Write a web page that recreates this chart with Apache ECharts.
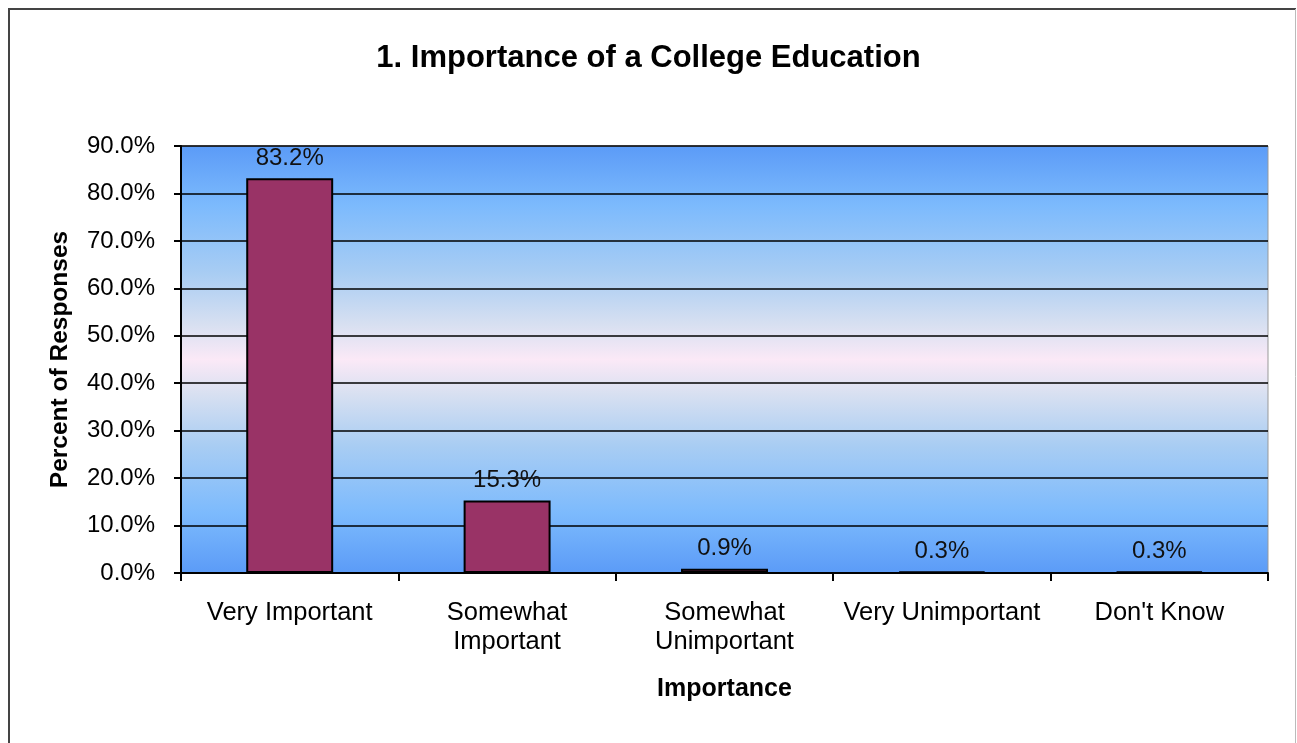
<!DOCTYPE html>
<html>
<head>
<meta charset="utf-8">
<script src="https://cdn.jsdelivr.net/npm/echarts@6/dist/echarts.min.js"></script>
<style>
html,body{margin:0;padding:0;background:#fff;}
#chart{width:1297px;height:743px;}
</style>
</head>
<body>
<div id="chart"></div>
<script>
const categories = ['Very Important', 'Somewhat\nImportant', 'Somewhat\nUnimportant', 'Very Unimportant', "Don't Know"];
const percentValues = [83.2, 15.3, 0.9, 0.3, 0.3];
const yTickMax = 90;
const yTickStep = 10;

const chart = echarts.init(document.getElementById('chart'));
const FONT = '"Liberation Sans", Arial, sans-serif';

const bg = new echarts.graphic.LinearGradient(0, 0, 0, 1, [
  {offset: 0, color: '#5b9bf7'},
  {offset: 0.14, color: '#7cbafd'},
  {offset: 0.3, color: '#a9cdf3'},
  {offset: 0.42, color: '#d8e0f1'},
  {offset: 0.5, color: '#fbe9f7'},
  {offset: 0.58, color: '#d8e0f1'},
  {offset: 0.7, color: '#a9cdf3'},
  {offset: 0.86, color: '#7cbafd'},
  {offset: 1, color: '#5b9bf7'}
]);

chart.setOption({
  animation: false,
  backgroundColor: '#ffffff',
  textStyle: {fontFamily: FONT},
  graphic: [
    {type: 'line', shape: {x1: 9, y1: 9, x2: 9, y2: 800}, style: {stroke: '#444', lineWidth: 2}, silent: true, z: 100},
    {type: 'line', shape: {x1: 8, y1: 9, x2: 1296, y2: 9}, style: {stroke: '#444', lineWidth: 2}, silent: true, z: 100},
    {type: 'line', shape: {x1: 1295.5, y1: 9, x2: 1295.5, y2: 800}, style: {stroke: '#bbb', lineWidth: 1}, silent: true, z: 100}
  ],
  title: {
    text: '1. Importance of a College Education',
    left: 'center',
    top: 38,
    textStyle: {fontFamily: FONT, fontSize: 31, fontWeight: 'bold', color: '#000'}
  },
  grid: {
    left: 181, right: 29, top: 146, bottom: 170,
    show: true,
    backgroundColor: bg,
    borderColor: '#999',
    borderWidth: 1
  },
  xAxis: {
    type: 'category',
    data: categories,
    name: 'Importance',
    nameLocation: 'middle',
    nameGap: 104,
    nameTextStyle: {fontFamily: FONT, fontSize: 25, fontWeight: 'bold', color: '#000'},
    axisLine: {lineStyle: {color: '#000', width: 2}},
    axisTick: {show: true, length: 8, lineStyle: {color: '#000', width: 2}},
    axisLabel: {
      fontFamily: FONT, fontSize: 25.5, color: '#000', margin: 25,
      lineHeight: 29, interval: 0
    }
  },
  yAxis: {
    type: 'value',
    min: 0,
    max: yTickMax,
    interval: yTickStep,
    name: 'Percent of Responses',
    nameLocation: 'middle',
    nameGap: 108,
    nameTextStyle: {fontFamily: FONT, fontSize: 24.5, fontWeight: 'bold', color: '#000'},
    axisLine: {show: true, lineStyle: {color: '#000', width: 2}},
    axisTick: {show: true, length: 7, lineStyle: {color: '#000', width: 2}},
    axisLabel: {
      fontFamily: FONT, fontSize: 24, color: '#000', margin: 26,
      formatter: v => v.toFixed(1) + '%'
    },
    splitLine: {show: true, lineStyle: {color: '#000', width: 1.5}}
  },
  series: [{
    type: 'bar',
    data: percentValues,
    barWidth: '40%',
    itemStyle: {color: '#993366', borderColor: '#000', borderWidth: 2},
    label: {
      show: true,
      position: 'top',
      distance: 8,
      fontFamily: FONT,
      fontSize: 24,
      color: '#111',
      formatter: p => p.value.toFixed(1) + '%'
    }
  }]
});
</script>
</body>
</html>
